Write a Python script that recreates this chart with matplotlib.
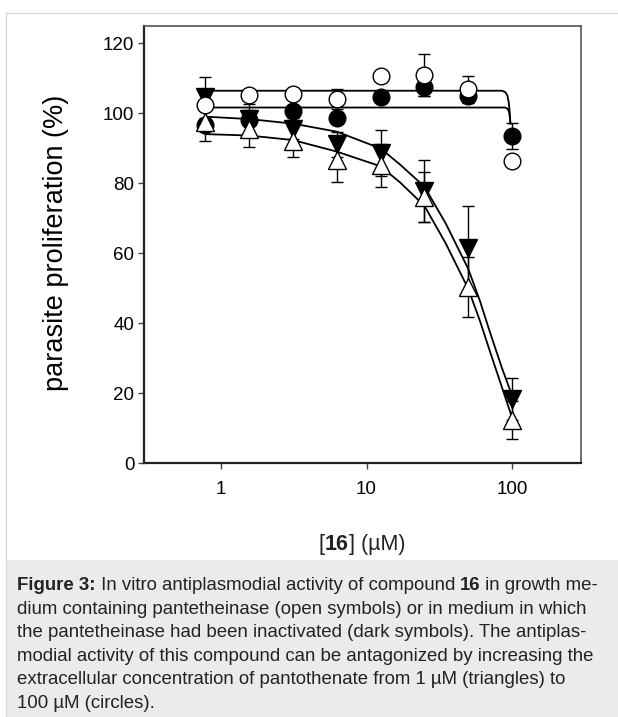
import matplotlib
matplotlib.use('Agg')
import matplotlib.pyplot as plt
import matplotlib.patches as mpatches
import matplotlib.lines as mlines

plt.rcParams['font.family'] = ['Liberation Sans', 'DejaVu Sans']

# Concentration of compound 16 (uM)
doses = [0.78, 1.56, 3.125, 6.25, 12.5, 25, 50, 100]

# Measured proliferation (%) and error bars
open_circle = [102.3, 105.1, 105.4, 104.0, 110.6, 111.0, 106.8, 86.4]
open_circle_err = [1.0, 1.0, 1.0, 2.9, 1.0, 6.0, 3.9, 1.0]
filled_circle = [96.5, 98.0, 100.6, 98.7, 104.7, 107.5, 105.0, 93.5]
filled_circle_err = [1.0, 1.0, 1.0, 1.0, 1.0, 2.6, 1.0, 3.7]
open_tri = [97.5, 95.6, 92.1, 86.6, 85.1, 76.1, 50.4, 12.3]
open_tri_err = [5.5, 5.2, 4.6, 6.4, 6.1, 7.1, 8.6, 5.3]
filled_tri = [104.5, 98.2, 95.6, 91.1, 88.5, 77.7, 61.5, 18.3]
filled_tri_err = [5.8, 4.5, 3.0, 3.5, 6.6, 8.9, 12.0, 6.0]

# Fitted curves
flat_upper_x = [0.78, 85, 90, 93, 95, 96.5, 97.5]
flat_upper_y = [106.4, 106.4, 106.0, 105.0, 103.0, 100.0, 97.0]
flat_lower_x = [0.78, 90, 93.5, 95.5, 96.5, 97.5]
flat_lower_y = [101.6, 101.6, 101.2, 100.2, 99.0, 97.0]
sig_x = [0.78, 1.56, 3.125, 6.25, 12.5, 17, 25, 35, 50, 60, 70, 85, 100]
sig_filled_y = [99.0, 98.3, 97.0, 94.7, 89.9, 85.3, 79.0, 68.5, 55.5, 46.5, 37.8, 27.3, 19.3]
sig_open_y = [94.0, 93.6, 92.3, 89.0, 84.8, 80.2, 73.5, 62.8, 49.8, 40.8, 32.3, 21.8, 13.0]

yticks = [0, 20, 40, 60, 80, 100, 120]
xticks = [1, 10, 100]
xticklabels = ['1', '10', '100']

caption = [
    [('Figure 3:', 'bold'), (' In vitro antiplasmodial activity of compound ', 'normal'),
     ('16', 'bold'), (' in growth me-', 'normal')],
    [('dium containing pantetheinase (open symbols) or in medium in which', 'normal')],
    [('the pantetheinase had been inactivated (dark symbols). The antiplas-', 'normal')],
    [('modial activity of this compound can be antagonized by increasing the', 'normal')],
    [('extracellular concentration of pantothenate from 1 \u00b5M (triangles) to', 'normal')],
    [('100 \u00b5M (circles).', 'normal')],
]

W, H = 618, 717
fig = plt.figure(figsize=(W / 100, H / 100), dpi=100)
fig.patch.set_facecolor('white')

# caption panel and thin page border
fig.patches.append(mpatches.Rectangle((6 / W, 0), 1, (H - 560) / H, transform=fig.transFigure,
                                      facecolor='#ebebeb', edgecolor='none', zorder=0))
fig.lines.append(mlines.Line2D([6 / W, 6 / W], [0, 1 - 13 / H], transform=fig.transFigure,
                               color='#d8d8d8', linewidth=1))
fig.lines.append(mlines.Line2D([6 / W, 1], [1 - 13 / H, 1 - 13 / H], transform=fig.transFigure,
                               color='#d8d8d8', linewidth=1))

ax = fig.add_axes([144 / W, 1 - 463 / H, (581 - 144) / W, (463 - 26) / H])
ax.set_xscale('log')
ax.set_xlim(10 ** -0.529, 10 ** 2.474)
ax.set_ylim(0, 124.9)

# fit lines
ax.plot(flat_upper_x, flat_upper_y, color='black', lw=1.3, zorder=2)
ax.plot(flat_lower_x, flat_lower_y, color='black', lw=1.3, zorder=2)
ax.plot(sig_x, sig_filled_y, color='black', lw=1.3, zorder=2)
ax.plot(sig_x, sig_open_y, color='black', lw=1.3, zorder=2)

# error bars
for vals, errs in [(open_circle, open_circle_err), (filled_circle, filled_circle_err),
                   (open_tri, open_tri_err), (filled_tri, filled_tri_err)]:
    ax.errorbar(doses, vals, yerr=errs, fmt='none', ecolor='black', elinewidth=1,
                capsize=4.5, capthick=1, zorder=3)

# markers
ax.plot(doses, filled_circle, 'o', ms=12, mfc='black', mec='black', mew=1, zorder=4)
ax.plot(doses, open_circle, 'o', ms=12, mfc='white', mec='black', mew=1, zorder=5)
ax.plot(doses, filled_tri, 'v', ms=13, mfc='black', mec='black', mew=1, zorder=4)
ax.plot(doses, open_tri, '^', ms=13, mfc='white', mec='black', mew=1, zorder=5)

# axes styling
for side in ['left', 'bottom']:
    ax.spines[side].set_color('#222222')
    ax.spines[side].set_linewidth(1.6)
for side in ['top', 'right']:
    ax.spines[side].set_color('#555555')
    ax.spines[side].set_linewidth(1.2)

ax.set_yticks(yticks)
ax.set_yticklabels([str(v) for v in yticks])
ax.set_xticks(xticks)
ax.set_xticklabels(xticklabels)
ax.minorticks_off()
ax.tick_params(axis='both', direction='out', length=4, width=1, color='#444444',
               labelsize=13.5, labelcolor='black')
ax.tick_params(axis='x', pad=9)
ax.tick_params(axis='y', pad=3)

fig.text(56 / W, 1 - 243 / H, 'parasite proliferation (%)', rotation=90, fontsize=19.5,
         ha='center', va='center')

fig.canvas.draw()
renderer = fig.canvas.get_renderer()


def draw_runs(runs, x0, y0, size, ha_center=False):
    # write a line of text pieces side by side, switching weight between them
    pieces = []
    for txt, weight in runs:
        t = fig.text(0, y0, txt, fontsize=size, fontweight=weight, va='baseline',
                     color='#222222', transform=None)
        pieces.append(t)
    widths = [p.get_window_extent(renderer).width for p in pieces]
    x = x0 - sum(widths) / 2 if ha_center else x0
    for p, w in zip(pieces, widths):
        p.set_position((x, y0))
        x += w


# x label with bold compound number
draw_runs([('[', 'normal'), ('16', 'bold'), (']', 'normal'), (' (\u00b5M)', 'normal')],
          362, H - 550, 15.5, ha_center=True)

line_h = 23.6
for i, runs in enumerate(caption):
    draw_runs(runs, 17, H - (590 + i * line_h), 13.4)

fig.savefig('out.png', dpi=100)
